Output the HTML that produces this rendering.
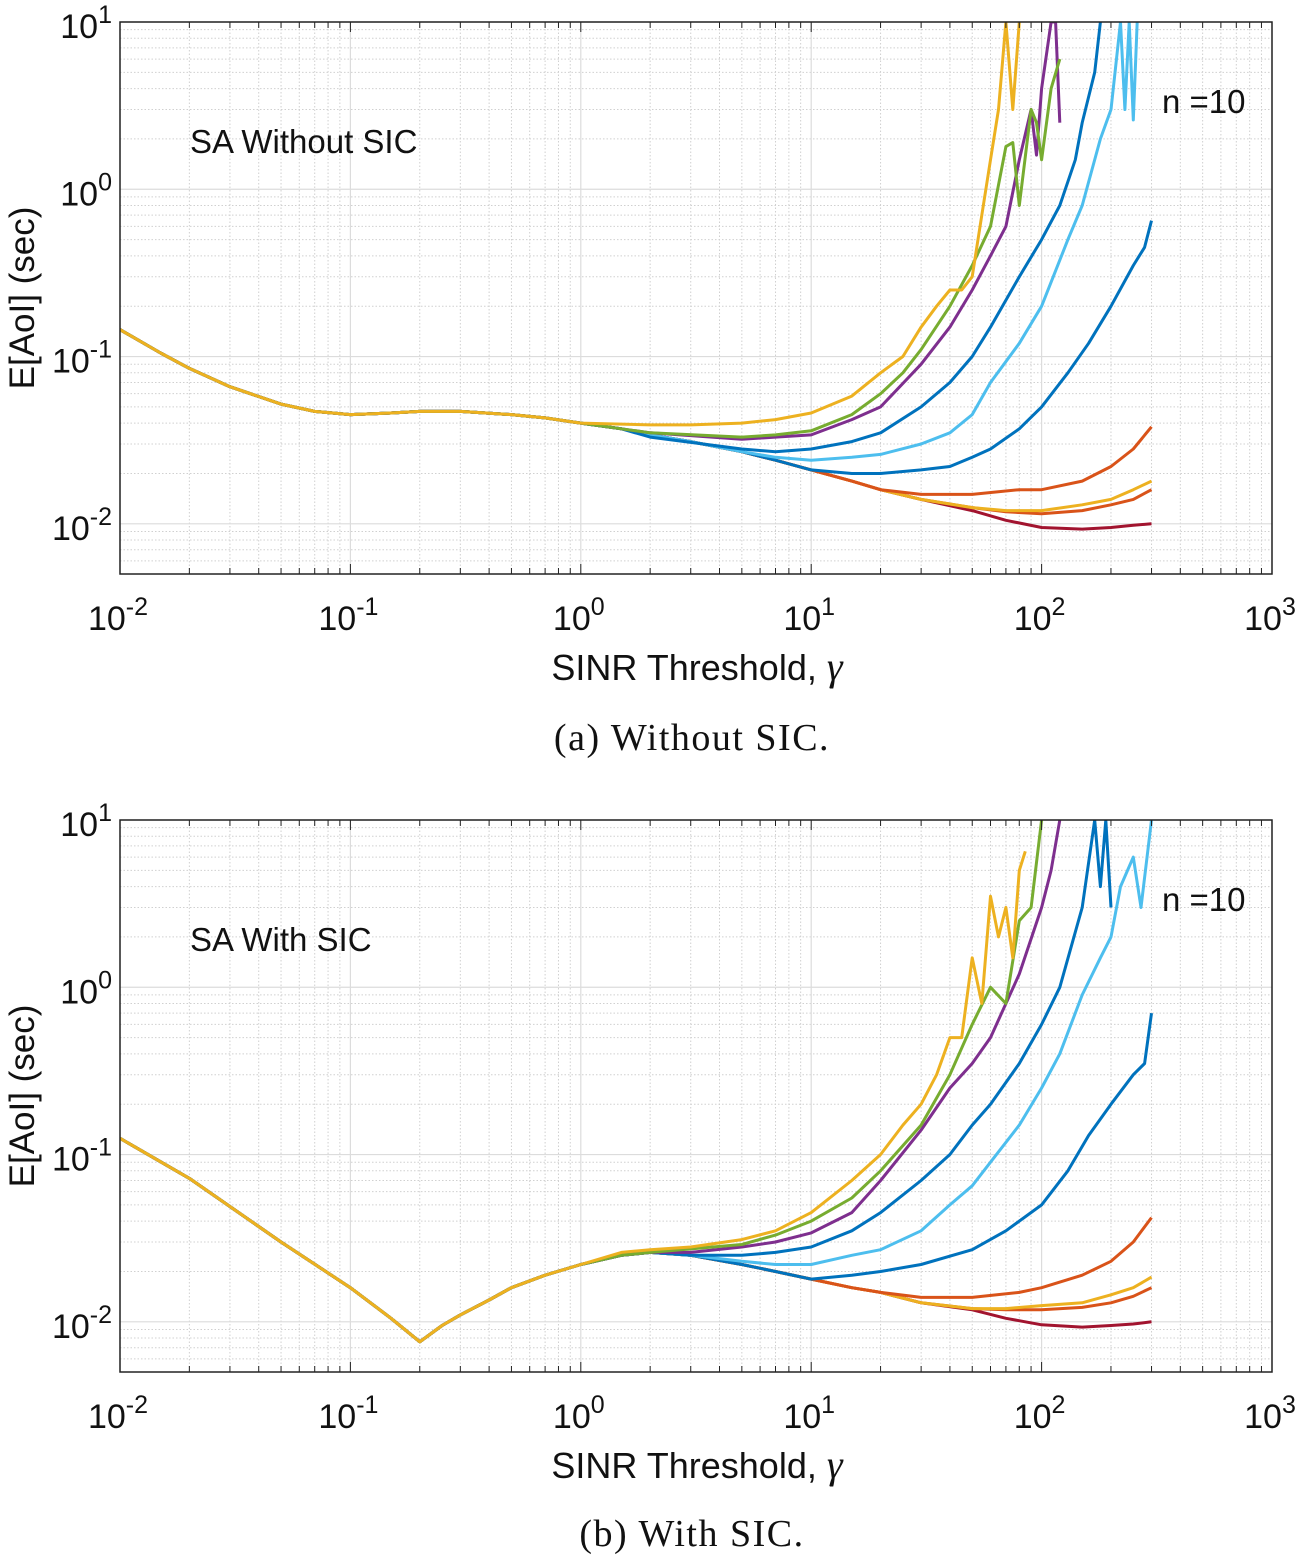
<!DOCTYPE html>
<html><head><meta charset="utf-8">
<style>
body{margin:0;background:#fff;}
svg{display:block;font-family:"Liberation Sans",sans-serif;}
</style></head>
<body>
<svg id="chart" width="1299" height="1558"></svg>
<script>
const xTickExps=[-2,-1,0,1,2,3];
const yTickExps=[-2,-1,0,1];
const colors=["#EDB120","#77AC30","#7E2F8E","#0072BD","#4DBEEE","#0072BD","#D95319","#EDB120","#D95319","#A2142F"];
const seriesNames=["s1","s2","s3","s4","s5","s6","s7","s8","s9","s10"];
const baseTop=[[0.01,0.145],[0.015,0.105],[0.02,0.085],[0.03,0.066],[0.05,0.052],[0.07,0.047],[0.1,0.045],[0.15,0.046],[0.2,0.047],[0.3,0.047],[0.5,0.045],[0.7,0.043],[1,0.040],[1.5,0.037],[2,0.034],[3,0.031],[5,0.027],[7,0.024],[10,0.021],[15,0.018],[20,0.016],[30,0.014],[50,0.0125]];
const baseBot=[[0.01,0.125],[0.02,0.072],[0.05,0.03],[0.1,0.016],[0.15,0.0105],[0.2,0.0076],[0.25,0.0095],[0.3,0.011],[0.4,0.0135],[0.5,0.016],[0.7,0.019],[1,0.022],[1.5,0.025],[2,0.026],[3,0.025],[5,0.022],[7,0.02],[10,0.018],[15,0.016],[20,0.015],[30,0.013],[50,0.012]];
const tailsTop=[
[[1,0.04],[2,0.039],[3,0.039],[5,0.040],[7,0.042],[10,0.046],[15,0.058],[20,0.08],[25,0.1],[30,0.15],[35,0.2],[40,0.25],[45,0.25],[50,0.3],[55,0.7],[60,1.5],[65,3],[70,10],[75,3],[80,10]],
[[2,0.035],[5,0.033],[7,0.034],[10,0.036],[15,0.045],[20,0.06],[25,0.08],[30,0.11],[40,0.2],[50,0.35],[60,0.6],[70,1.8],[75,1.9],[80,0.8],[90,3],[95,2.5],[100,1.5],[110,4],[120,6]],
[[2,0.035],[5,0.032],[7,0.033],[10,0.034],[15,0.042],[20,0.05],[30,0.09],[40,0.15],[50,0.25],[60,0.4],[70,0.6],[80,1.5],[90,3],[95,1.6],[100,4],[110,10],[115,10],[120,2.5]],
[[2,0.033],[5,0.028],[7,0.027],[10,0.028],[15,0.031],[20,0.035],[30,0.05],[40,0.07],[50,0.1],[60,0.15],[80,0.3],[100,0.5],[120,0.8],[140,1.5],[150,2.5],[170,5],[180,10]],
[[5,0.027],[7,0.025],[10,0.024],[15,0.025],[20,0.026],[30,0.03],[40,0.035],[50,0.045],[60,0.07],[80,0.12],[100,0.2],[130,0.5],[150,0.8],[180,2],[200,3],[220,10],[230,3],[240,10],[250,2.6],[260,10]],
[[7,0.024],[10,0.021],[15,0.02],[20,0.02],[30,0.021],[40,0.022],[50,0.025],[60,0.028],[80,0.037],[100,0.05],[130,0.08],[160,0.12],[200,0.2],[250,0.35],[280,0.45],[300,0.65]],
[[20,0.016],[30,0.015],[50,0.015],[80,0.016],[100,0.016],[150,0.018],[200,0.022],[250,0.028],[300,0.038]],
[[50,0.0125],[70,0.012],[100,0.012],[150,0.013],[200,0.014],[250,0.016],[300,0.018]],
[[50,0.0125],[70,0.0118],[100,0.0115],[150,0.012],[200,0.013],[250,0.014],[300,0.016]],
[[50,0.012],[70,0.0105],[100,0.0095],[150,0.0093],[200,0.0095],[250,0.0098],[300,0.01]]];
const tailsBot=[
[[1.5,0.026],[2,0.027],[3,0.028],[5,0.031],[7,0.035],[10,0.045],[15,0.07],[20,0.1],[25,0.15],[30,0.2],[35,0.3],[40,0.5],[45,0.5],[50,1.5],[55,0.8],[60,3.5],[65,2],[70,3],[75,1.5],[80,5],[85,6.5]],
[[2,0.026],[5,0.029],[7,0.033],[10,0.04],[15,0.055],[20,0.08],[30,0.15],[40,0.3],[50,0.6],[60,1],[70,0.8],[80,2.5],[90,3],[100,10]],
[[3,0.026],[5,0.028],[7,0.03],[10,0.034],[15,0.045],[20,0.07],[30,0.14],[40,0.25],[50,0.35],[60,0.5],[80,1.2],[100,3],[110,5],[120,10]],
[[3,0.025],[5,0.025],[7,0.026],[10,0.028],[15,0.035],[20,0.045],[30,0.07],[40,0.1],[50,0.15],[60,0.2],[80,0.35],[100,0.6],[120,1],[150,3],[170,10],[180,4],[190,10],[200,3]],
[[5,0.023],[7,0.022],[10,0.022],[15,0.025],[20,0.027],[30,0.035],[40,0.05],[50,0.065],[60,0.09],[80,0.15],[100,0.25],[120,0.4],[150,0.9],[180,1.5],[200,2],[220,4],[250,6],[270,3],[300,10]],
[[7,0.02],[10,0.018],[15,0.019],[20,0.02],[30,0.022],[50,0.027],[70,0.035],[100,0.05],[130,0.08],[160,0.13],[200,0.2],[250,0.3],[280,0.35],[300,0.7]],
[[20,0.015],[30,0.014],[50,0.014],[80,0.015],[100,0.016],[150,0.019],[200,0.023],[250,0.03],[300,0.042]],
[[50,0.012],[70,0.012],[100,0.0125],[150,0.013],[200,0.0145],[250,0.016],[300,0.0185]],
[[50,0.012],[70,0.0118],[100,0.0118],[150,0.0122],[200,0.013],[250,0.0142],[300,0.016]],
[[50,0.0118],[70,0.0105],[100,0.0096],[150,0.0093],[200,0.0095],[250,0.0097],[300,0.01]]];

const NS="http://www.w3.org/2000/svg";
const svg=document.getElementById('chart');
function mk(tag,attrs,parent){const e=document.createElementNS(NS,tag);for(const k in attrs)e.setAttribute(k,attrs[k]);(parent||svg).appendChild(e);return e;}
const X0=120,X1=1272;
function xs(v){return X0+(Math.log10(v)+2)/5*(X1-X0);}

function drawPanel(top,label,base,tails,caption,capY,key){
  const bot=top+552;
  const ys=v=>top+(1-Math.log10(v))/3.3*552;
  const g=mk('g',{});
  
  
  for(let e=-2;e<3;e++)for(let m=2;m<10;m++){const x=xs(m*Math.pow(10,e));
    mk('line',{x1:x,x2:x,y1:top,y2:bot,stroke:'#d0d0d0','stroke-dasharray':'1.5,2','stroke-width':1},g);}
  for(let e=-3;e<1;e++)for(let m=2;m<10;m++){const y=ys(m*Math.pow(10,e));if(y<top||y>bot)continue;
    mk('line',{x1:X0,x2:X1,y1:y,y2:y,stroke:'#d0d0d0','stroke-dasharray':'1.5,2','stroke-width':1},g);}
  xTickExps.forEach(e=>{const x=xs(Math.pow(10,e));mk('line',{x1:x,x2:x,y1:top,y2:bot,stroke:'#dcdcdc','stroke-width':1.2},g);
    const t=mk('text',{x:x-2,y:bot+56,'font-size':34,'text-anchor':'middle',fill:'#111'},g);
    
    t.innerHTML='10<tspan dy="-15" font-size="25">'+e+'</tspan>';});
  yTickExps.forEach(e=>{const y=ys(Math.pow(10,e));mk('line',{x1:X0,x2:X1,y1:y,y2:y,stroke:'#dcdcdc','stroke-width':1.2},g);
    const t=mk('text',{x:X0-8,y:y+16,'font-size':34,'text-anchor':'end',fill:'#111'},g);
    
    t.innerHTML='10<tspan dy="-15" font-size="25">'+e+'</tspan>';});
  const clipId='clip'+key;
  const cp=mk('clipPath',{id:clipId},g);mk('rect',{x:X0,y:top,width:X1-X0,height:bot-top},cp);
  const sg=mk('g',{'clip-path':'url(#'+clipId+')'},g);
  for(let i=tails.length-1;i>=0;i--){
    const t=tails[i];const start=t[0][0];
    const pts=base.filter(p=>p[0]<start).concat(t);
    const pl=mk('polyline',{points:pts.map(p=>xs(p[0]).toFixed(1)+','+ys(p[1]).toFixed(1)).join(' '),fill:'none',stroke:colors[i],'stroke-width':3,'stroke-linejoin':'round'},sg);
    
    
  }
  mk('rect',{x:X0,y:top,width:X1-X0,height:bot-top,fill:'none',stroke:'#222','stroke-width':1.5},g);
  for(let e=-2;e<3;e++)for(let m=1;m<10;m++){const x=xs(m*Math.pow(10,e));const L=m==1?10:6;
    mk('line',{x1:x,x2:x,y1:bot,y2:bot-L,stroke:'#222'},g);mk('line',{x1:x,x2:x,y1:top,y2:top+L,stroke:'#222'},g);}
  const t1=mk('text',{x:190,y:top+131,'font-size':33,fill:'#111'},g);t1.textContent=label;
  
  const t2=mk('text',{x:1162,y:top+91,'font-size':33,fill:'#111'},g);t2.textContent='n =10';
  
  const xt=mk('text',{x:697,y:bot+106,'font-size':36,'text-anchor':'middle',fill:'#111'},g);
  xt.innerHTML='SINR Threshold, <tspan font-family="Liberation Serif" font-style="italic" font-size="40">γ</tspan>';
  
  const yt=mk('text',{x:0,y:0,'font-size':35,'text-anchor':'middle',fill:'#111',transform:'translate(34,'+(top+276)+') rotate(-90)'},g);
  yt.textContent='E[AoI] (sec)';
  
  const cap=mk('text',{x:692,y:capY,'font-size':38,'text-anchor':'middle','font-family':'Liberation Serif','letter-spacing':'1.5',fill:'#111'},g);
  cap.textContent=caption;
  
}
drawPanel(22,'SA Without SIC',baseTop,tailsTop,'(a) Without SIC.',750,'top');
drawPanel(820,'SA With SIC',baseBot,tailsBot,'(b) With SIC.',1546,'bottom');
</script>
</body></html>
